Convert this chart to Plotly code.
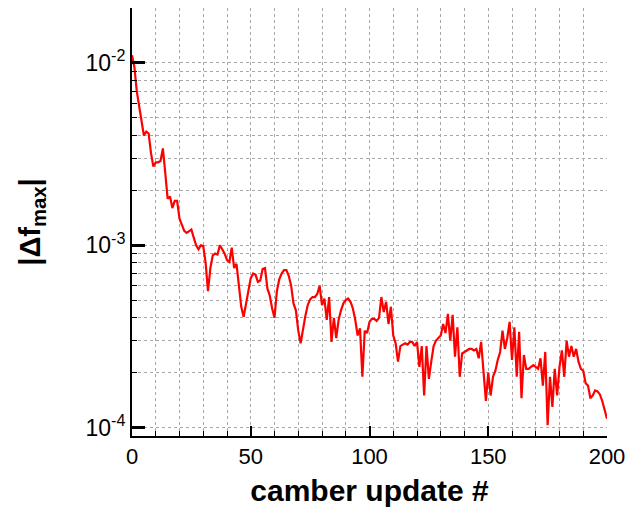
import plotly.graph_objects as go

# Convergence history of the maximum camber correction, in units of 1e-4
update_no = list(range(0, 201))
dfmax_e4 = [
    110, 95, 70, 58, 48, 40, 42, 41, 32, 27,
    28.5, 28.5, 29, 34, 25, 18, 18.5, 16, 17.5, 17.5,
    14, 13, 12, 11.7, 12, 12.2, 11, 10, 9.5, 10,
    9.9, 8, 5.6, 7.5, 8.8, 9, 8.9, 10, 9.5, 9,
    8.3, 8.1, 9.7, 7.5, 7.9, 6, 4.6, 4.05, 4.8, 5.8,
    6.6, 7, 6.9, 6.3, 6.4, 7.4, 7.5, 5.8, 5.3, 4.5,
    4.0, 5.6, 6.5, 7.0, 7.3, 7.3, 6.8, 6.0, 4.8, 4.4,
    3.4, 2.9, 3.5, 4.1, 4.7, 5.05, 5.2, 5.2, 5.4, 6.0,
    4.7, 5.1, 3.9, 5.2, 2.95, 4.0, 3.1, 3.9, 4.4, 4.8,
    5.0, 5.1, 4.9, 4.5, 3.9, 3.2, 3.5, 1.9, 3.4, 3.3,
    3.8, 3.95, 3.95, 3.85, 4.0, 5.2, 4.3, 4.9, 3.7, 4.6,
    3.2, 2.9, 2.3, 2.8, 2.85, 2.9, 2.85, 2.95, 2.95, 2.8,
    2.95, 2.15, 2.8, 1.5, 2.8, 1.85, 2.3, 2.8, 3.0, 3.1,
    3.2, 3.7, 3.3, 4.2, 3.0, 4.15, 2.45, 3.55, 1.9, 2.55,
    2.6, 2.65, 2.7, 2.7, 2.65, 2.7, 2.4, 2.95, 2.05, 1.4,
    2.0, 1.5, 1.9, 2.05, 2.35, 2.6, 3.4, 2.7, 3.1, 3.8,
    2.35, 3.55, 1.9, 3.35, 1.45, 2.5, 2.1, 2.1, 2.15, 2.2,
    2.15, 2.1, 2.4, 1.7, 2.6, 1.03, 1.9, 1.3, 2.1, 1.5,
    2.15, 2.65, 1.9, 3.0, 2.45, 2.8, 2.45, 2.7, 2.3, 2.1,
    2.05, 1.75, 1.7, 1.45, 1.5, 1.6, 1.58, 1.52, 1.4, 1.25,
    1.12,
]
dfmax = [v * 1e-4 for v in dfmax_e4]

x_ticks = [0, 50, 100, 150, 200]
y_decades = [1e-4, 1e-3, 1e-2]
y_ticktext = ["10<sup>-4</sup>", "10<sup>-3</sup>", "10<sup>-2</sup>"]
# 2..9 multiples of each decade: short ticks + dotted grid
y_minor = [m * d for d in [1e-5, 1e-4, 1e-3, 1e-2] for m in range(2, 10)]

y_range = [-4.046, -1.699]
font_family = "Arial, Liberation Sans, sans-serif"
grid_color = "#a8a8a8"

fig = go.Figure()
fig.add_trace(go.Scatter(
    x=update_no, y=dfmax, mode="lines",
    line=dict(color="#ff0000", width=2.2),
    showlegend=False,
))

fig.update_layout(
    width=633, height=515,
    margin=dict(l=132, r=23, t=8, b=79),
    paper_bgcolor="white", plot_bgcolor="white",
    font=dict(family=font_family, color="black"),
    xaxis=dict(
        range=[0, 200],
        tickvals=x_ticks,
        ticks="inside", ticklen=10, tickwidth=2, tickcolor="black",
        showline=True, linecolor="black", linewidth=2,
        showgrid=True, gridcolor=grid_color, griddash="dot", gridwidth=1,
        zeroline=False,
        tickfont=dict(size=22, family=font_family),
        minor=dict(dtick=10, ticks="inside", ticklen=5, tickwidth=1,
                   tickcolor="black", showgrid=True, gridcolor=grid_color,
                   griddash="dot", gridwidth=1),
        title=dict(text="<b>camber update #</b>",
                   font=dict(size=30, family=font_family), standoff=12),
    ),
    yaxis=dict(
        type="log",
        range=y_range,
        tickvals=y_decades, ticktext=y_ticktext,
        ticks="inside", ticklen=13, tickwidth=2.5, tickcolor="black",
        showline=True, linecolor="black", linewidth=2,
        showgrid=True, gridcolor=grid_color, griddash="dot", gridwidth=1,
        zeroline=False,
        tickfont=dict(size=23, family=font_family),
        minor=dict(tickvals=y_minor, ticks="inside", ticklen=5, tickwidth=1,
                   tickcolor="black", showgrid=True, gridcolor=grid_color,
                   griddash="dot", gridwidth=1),
        title=dict(text="<b>|\u0394f<sub>max</sub>|</b>",
                   font=dict(size=29, family=font_family), standoff=36),
    ),
)

fig.write_html("out.html")
